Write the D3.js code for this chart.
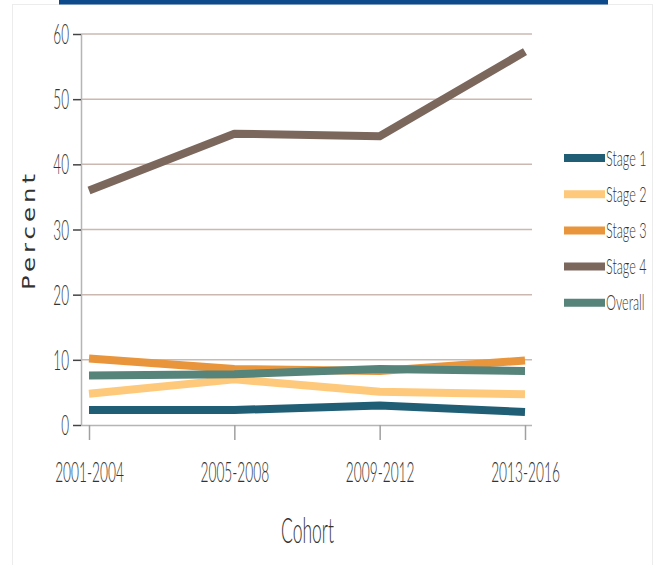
<!DOCTYPE html>
<html>
<head>
<meta charset="utf-8">
<script src="https://cdn.jsdelivr.net/npm/d3@7"></script>
<style>
  html, body { margin: 0; padding: 0; background: #fff; }
  svg { display: block; }
</style>
</head>
<body>
<script>
// Cohorts along the x axis
const cohorts = ["2001-2004", "2005-2008", "2009-2012", "2013-2016"];

// Percent by stage for each cohort
const stage1 = [2.3, 2.3, 3.0, 2.0];
const stage2 = [4.8, 7.0, 5.1, 4.7];
const stage3 = [10.2, 8.6, 8.3, 9.9];
const stage4 = [36.0, 44.7, 44.3, 57.3];
const overall = [7.6, 7.8, 8.6, 8.3];

const seriesNames = ["Stage 1", "Stage 2", "Stage 3", "Stage 4", "Overall"];
const seriesColors = ["#1f5e74", "#fec97b", "#e9953b", "#7c675d", "#56837a"];
const yTicks = [0, 10, 20, 30, 40, 50, 60];

const series = [stage1, stage2, stage3, stage4, overall].map((v, i) => ({
  name: seriesNames[i], color: seriesColors[i], values: v
}));

const W = 655, H = 565;
const plot = { left: 81, right: 532, top: 34, bottom: 425 };

const svg = d3.select("body").append("svg").attr("width", W).attr("height", H);

// panel frame and header band
svg.append("rect").attr("x", 12.5).attr("y", 4.5).attr("width", 640).attr("height", 620)
  .attr("fill", "none").attr("stroke", "#ececec").attr("stroke-width", 1);
svg.append("rect").attr("x", 59).attr("y", 0).attr("width", 549).attr("height", 4.5)
  .attr("fill", "#0d4a8c");

const x = d3.scalePoint().domain(cohorts).range([89, 525]);
const y = d3.scaleLinear().domain([0, 60]).range([plot.bottom, plot.top]);

const narrow = "Lato, 'Liberation Sans', Arial, sans-serif";
const textColor = "#333333";

function lightText(sel, size) {
  sel.style("font-family", narrow).style("font-size", size + "px")
    .style("font-weight", 300).attr("fill", textColor);
}

// gridlines
svg.append("g").selectAll("line").data(yTicks.filter(d => d > 0)).join("line")
  .attr("x1", plot.left).attr("x2", plot.right)
  .attr("y1", d => y(d)).attr("y2", d => y(d))
  .attr("stroke", "#cbb9b1").attr("stroke-width", 1.5);

// y axis
const yAxis = svg.append("g").attr("transform", `translate(${plot.left},0)`)
  .call(d3.axisLeft(y).tickValues(yTicks).tickSize(8).tickPadding(0));
yAxis.select(".domain").attr("stroke", "#b5b5b5").attr("stroke-width", 1.5)
  .attr("d", `M0.5,${plot.top}V${plot.bottom}`);
yAxis.selectAll(".tick line").attr("stroke", "#444").attr("stroke-width", 1.5);
yAxis.selectAll(".tick text")
  .attr("x", 0).attr("dy", null).attr("y", 0)
  .attr("transform", "translate(-12,9.5) scale(0.5,1)")
  .attr("text-anchor", "end")
  .call(lightText, 27);

// x axis
const xAxis = svg.append("g").attr("transform", `translate(0,${plot.bottom})`)
  .call(d3.axisBottom(x).tickSize(15).tickPadding(0));
xAxis.select(".domain").attr("stroke", "#b5b5b5").attr("stroke-width", 1.5)
  .attr("d", `M${plot.left},0.5H${plot.right}`);
xAxis.selectAll(".tick line").attr("stroke", "#a0a0a0").attr("stroke-width", 1.5);
xAxis.selectAll(".tick text")
  .attr("y", 0).attr("dy", null)
  .attr("transform", "translate(0,57) scale(0.49,1)")
  .attr("text-anchor", "middle")
  .call(lightText, 28);

// axis titles
svg.append("text")
  .attr("transform", "translate(307.5,543) scale(0.5,1)")
  .attr("text-anchor", "middle")
  .call(lightText, 35)
  .text("Cohort");

svg.append("text")
  .attr("transform", "translate(35,230) rotate(-90)")
  .attr("text-anchor", "middle")
  .attr("textLength", 120).attr("lengthAdjust", "spacingAndGlyphs")
  .style("font-family", "'DejaVu Sans', Verdana, sans-serif").style("font-size", "18px")
  .style("letter-spacing", "3px")
  .attr("fill", textColor)
  .text("Percent");

// series lines
const line = d3.line().x((d, i) => x(cohorts[i])).y(d => y(d));
svg.append("g").selectAll("path").data(series).join("path")
  .attr("d", d => line(d.values))
  .attr("fill", "none")
  .attr("stroke", d => d.color)
  .attr("stroke-width", 8)
  .attr("stroke-linejoin", "round")
  .attr("stroke-linecap", "butt");

// legend
const legend = svg.append("g");
const lg = legend.selectAll("g").data(series).join("g")
  .attr("transform", (d, i) => `translate(564,${158 + i * 36.2})`);
lg.append("line").attr("x1", 0).attr("x2", 41).attr("y1", 0).attr("y2", 0)
  .attr("stroke", d => d.color).attr("stroke-width", 8);
lg.append("text")
  .attr("transform", "translate(42,7.5) scale(0.6,1)")
  .call(lightText, 21)
  .text(d => d.name);
</script>
</body>
</html>
